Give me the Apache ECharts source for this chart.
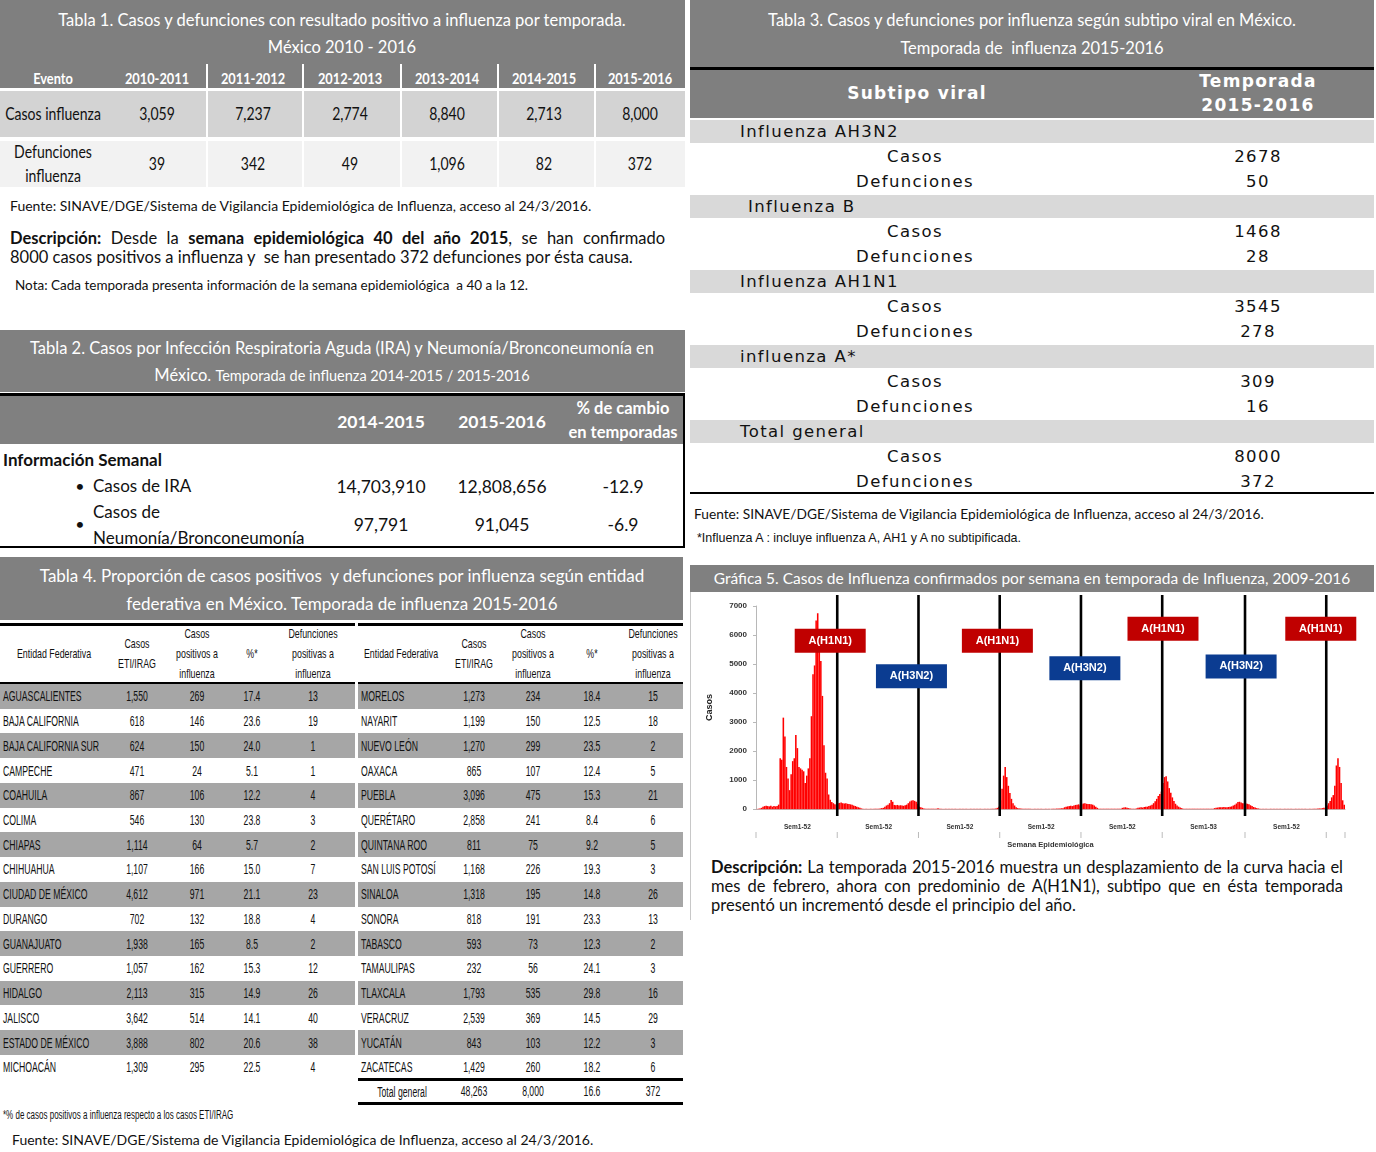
<!DOCTYPE html>
<html>
<head>
<meta charset="utf-8">
<script src="https://cdn.jsdelivr.net/npm/echarts/dist/echarts.min.js"></script>
<style>
  html, body { margin: 0; padding: 0; background: #fff; }
  #page { position: relative; width: 1376px; height: 1152px; overflow: hidden; background: #fff; }
  .t { position: absolute; white-space: nowrap; line-height: 1.2; }
  .r { position: absolute; }
  .cal { font-family: Lato, "Open Sans", sans-serif; }
  .arl { font-family: "Liberation Sans", Arial, sans-serif; }
  .dj { font-family: "DejaVu Sans", sans-serif; }
  .w { color: #fff; }
  .para { position: absolute; font-family: Lato, sans-serif; text-align: justify; color: #111; }
  .jl { display: block; white-space: nowrap; text-align: justify; text-align-last: justify; }
  .ll { display: block; white-space: nowrap; }
</style>
</head>
<body>
<div id="page"></div>
<script>
// ---- Gráfica 5: casos semanales de influenza, 2009-2016 ----
const weeks2009 = [0, 10, 20, 40, 80, 100, 110, 100, 90, 110, 80, 100, 90, 100, 150,
  1750, 1700, 3150, 2500, 1450, 1050, 650, 1200, 1650, 1750, 2550, 2100, 1450, 1400, 1350,
  1300, 900, 1150, 1400, 1750, 3200, 4650, 4950, 6500, 6750, 5700, 5100, 3900, 2200, 1250,
  1050, 500, 320, 240, 200, 160, 140]
const weeks2010 = [200, 210, 220, 200, 190, 200, 180, 170, 160, 150, 120, 100, 80, 60, 40, 20,
  10, 5, 5, 5, 5, 5, 5, 5, 10, 10, 10, 20, 30,
  40, 80, 120, 150, 200, 310, 250, 140, 130, 140, 120, 130, 120, 110, 130, 150, 200, 260, 290, 300, 280, 250, 180]
const weeks2011 = [80, 60, 40, 20,
  10, 10, 10, 10, 10, 10, 10, 10, 30, 10, 10,
  5, 5, 5, 5, 5, 5, 5, 5, 5, 5, 5, 5, 5, 5, 5, 5, 5, 5, 5, 5, 5, 5, 5, 5, 5, 5, 5, 5, 5, 5, 5, 5,
  10, 10, 20, 40, 80]
const weeks2012 = [300, 700, 1150, 1450, 1100, 800, 550, 350, 200, 120, 60, 30,
  20, 15, 10, 10, 10, 10, 10, 5, 5, 5, 5, 5, 5, 5, 5, 5, 5, 5, 5, 5, 5, 10, 10, 10, 15, 15, 20, 25,
  30, 60, 80, 90, 100, 110, 100, 120, 140, 150, 160, 120]
const weeks2013 = [160, 190, 200, 180, 170, 170, 160, 150, 120, 80, 40,
  10, 10, 10, 10, 10, 10, 10, 10, 10, 10, 10, 10, 10, 10, 10,
  40, 50, 60, 40, 30, 20, 10, 10, 10, 20,
  40, 50, 60, 50, 70, 80, 80, 100, 120, 150, 200, 270, 350, 450, 520, 600]
const weeks2014 = [900, 1100, 1130, 950, 720, 560, 400, 280, 180, 120, 80, 50, 30,
  10, 10, 10, 10, 10, 10, 10, 10, 10, 10, 10, 10, 10, 10, 10, 10, 10, 10, 10, 10,
  30, 40, 50, 60, 60, 60, 70, 60, 60, 70, 80, 90, 120, 150, 190, 240, 250, 220, 200, 190]
const weeks2015 = [190, 180, 160, 130, 100, 70, 50, 30, 20,
  5, 5, 5, 5, 5, 5, 5, 5, 5, 5, 5, 5, 5, 5, 5, 5, 5, 5, 5, 5, 5, 5, 5, 5, 5, 5, 5, 5, 5, 5, 5, 5, 5, 5, 5,
  10, 10, 15, 20, 20, 30, 40, 40]
const weeks2016 = [120, 200, 280, 400, 480, 800, 1500, 1750, 1450, 900, 300, 150]

const years = ['2009', '2010', '2011', '2012', '2013', '2014', '2015', '2016']
const yearLabels = ['Sem1-52', 'Sem1-52', 'Sem1-52', 'Sem1-52', 'Sem1-52', 'Sem1-53', 'Sem1-52', '']
const yTicks = [0, 1000, 2000, 3000, 4000, 5000, 6000, 7000]
const subtypeLabels = ['A(H1N1)', 'A(H3N2)', 'A(H1N1)', 'A(H3N2)', 'A(H1N1)', 'A(H3N2)', 'A(H1N1)']

// ---- tablas ----
const t1Seasons = ['2010-2011', '2011-2012', '2012-2013', '2013-2014', '2014-2015', '2015-2016']
const t1Casos = ['3,059', '7,237', '2,774', '8,840', '2,713', '8,000']
const t1Defunciones = ['39', '342', '49', '1,096', '82', '372']

const t2Seasons = ['2014-2015', '2015-2016']
const t2Ira = ['14,703,910', '12,808,656', '-12.9']
const t2Neumonia = ['97,791', '91,045', '-6.9']

const t3Subtipos = ['Influenza AH3N2', 'Influenza B', 'Influenza AH1N1', 'influenza A*', 'Total general']
const t3Casos = ['2678', '1468', '3545', '309', '8000']
const t3Defunciones = ['50', '28', '278', '16', '372']

const t4Left = [
  ['AGUASCALIENTES', '1,550', '269', '17.4', '13'],
  ['BAJA CALIFORNIA', '618', '146', '23.6', '19'],
  ['BAJA CALIFORNIA SUR', '624', '150', '24.0', '1'],
  ['CAMPECHE', '471', '24', '5.1', '1'],
  ['COAHUILA', '867', '106', '12.2', '4'],
  ['COLIMA', '546', '130', '23.8', '3'],
  ['CHIAPAS', '1,114', '64', '5.7', '2'],
  ['CHIHUAHUA', '1,107', '166', '15.0', '7'],
  ['CIUDAD DE MÉXICO', '4,612', '971', '21.1', '23'],
  ['DURANGO', '702', '132', '18.8', '4'],
  ['GUANAJUATO', '1,938', '165', '8.5', '2'],
  ['GUERRERO', '1,057', '162', '15.3', '12'],
  ['HIDALGO', '2,113', '315', '14.9', '26'],
  ['JALISCO', '3,642', '514', '14.1', '40'],
  ['ESTADO DE MÉXICO', '3,888', '802', '20.6', '38'],
  ['MICHOACÁN', '1,309', '295', '22.5', '4']
]
const t4Right = [
  ['MORELOS', '1,273', '234', '18.4', '15'],
  ['NAYARIT', '1,199', '150', '12.5', '18'],
  ['NUEVO LEÓN', '1,270', '299', '23.5', '2'],
  ['OAXACA', '865', '107', '12.4', '5'],
  ['PUEBLA', '3,096', '475', '15.3', '21'],
  ['QUERÉTARO', '2,858', '241', '8.4', '6'],
  ['QUINTANA ROO', '811', '75', '9.2', '5'],
  ['SAN LUIS POTOSÍ', '1,168', '226', '19.3', '3'],
  ['SINALOA', '1,318', '195', '14.8', '26'],
  ['SONORA', '818', '191', '23.3', '13'],
  ['TABASCO', '593', '73', '12.3', '2'],
  ['TAMAULIPAS', '232', '56', '24.1', '3'],
  ['TLAXCALA', '1,793', '535', '29.8', '16'],
  ['VERACRUZ', '2,539', '369', '14.5', '29'],
  ['YUCATÁN', '843', '103', '12.2', '3'],
  ['ZACATECAS', '1,429', '260', '18.2', '6']
]
const t4Total = ['Total general', '48,263', '8,000', '16.6', '372']

const fuente = 'Fuente: SINAVE/DGE/Sistema de Vigilancia Epidemiológica de Influenza, acceso al 24/3/2016.'

// ---- helpers ----
const page = document.getElementById('page')

function rect(x, y, w, h, color) {
  const d = document.createElement('div')
  d.className = 'r'
  d.style.cssText += `left:${x}px;top:${y}px;width:${w}px;height:${h}px;background:${color}`
  page.appendChild(d)
  return d
}

// x,y = anchor (y is the text middle); align: 'l' | 'c' | 'r'; sx = horizontal squeeze
function put(x, y, html, cls, css, align, sx) {
  const d = document.createElement('div')
  d.className = 't ' + (cls || '')
  d.innerHTML = html
  const tx = align === 'l' ? '0' : align === 'r' ? '-100%' : '-50%'
  const ox = align === 'l' ? '0' : align === 'r' ? '100%' : '50%'
  d.style.cssText += `left:${x}px;top:${y}px;${css || ''};transform-origin:${ox} 50%;` +
    `transform:translate(${tx},-50%) scaleX(${sx || 1})`
  page.appendChild(d)
  return d
}

// párrafo justificado con cortes de línea fijos
function para(x, y, w, lines, css) {
  const d = document.createElement('div')
  d.className = 'para'
  d.style.cssText += `left:${x}px;top:${y}px;width:${w}px;${css}`
  d.innerHTML = lines.map((l, i) =>
    `<span class="${i < lines.length - 1 ? 'jl' : 'll'}">${l}</span>`).join('')
  page.appendChild(d)
}

// ---- Tabla 1 ----
rect(0, 0, 685, 88, '#7f7f7f')
put(342, 21, 'Tabla 1. Casos y defunciones con resultado positivo a influenza por temporada.', 'cal w', 'font-size:16.5px')
put(342, 48, 'México 2010 - 2016', 'cal w', 'font-size:16.5px')
const t1X = [157, 253, 350, 447, 544, 640]
const t1Sep = [206, 302, 400, 497, 594]
put(53, 78, 'Evento', 'cal w', 'font-size:16px;font-weight:bold', 'c', 0.8)
t1Seasons.forEach((s, i) => put(t1X[i], 78, s, 'cal w', 'font-size:16px;font-weight:bold', 'c', 0.8))
t1Sep.forEach(x => rect(x, 64, 2, 24, '#fff'))
rect(0, 91, 685, 46, '#d3d3d3')
rect(0, 141, 685, 46, '#f2f2f2')
t1Sep.forEach(x => { rect(x, 91, 2, 46, '#fff'); rect(x, 141, 2, 46, '#fff') })
put(53, 115, 'Casos influenza', 'cal', 'font-size:16.5px;color:#111', 'c', 0.85)
put(53, 153, 'Defunciones', 'cal', 'font-size:16.5px;color:#111', 'c', 0.85)
put(53, 177, 'influenza', 'cal', 'font-size:16.5px;color:#111', 'c', 0.85)
t1Casos.forEach((v, i) => put(t1X[i], 115, v, 'cal', 'font-size:16.5px;color:#111', 'c', 0.85))
t1Defunciones.forEach((v, i) => put(t1X[i], 165, v, 'cal', 'font-size:16.5px;color:#111', 'c', 0.85))
put(10, 206, fuente, 'cal', 'font-size:14px;color:#111', 'l')
para(10, 229, 655, [
  '<b>Descripción:</b> Desde la <b>semana epidemiológica 40 del año 2015</b>, se han confirmado',
  '8000 casos positivos a influenza y&nbsp; se han presentado 372 defunciones por ésta causa.'
], 'font-size:16.5px;line-height:19px')
put(15, 285, 'Nota: Cada temporada presenta información de la semana epidemiológica&nbsp; a 40 a la 12.', 'cal', 'font-size:13.5px;color:#111', 'l')

// ---- Tabla 2 ----
rect(0, 330, 685, 62, '#808080')
put(342, 349, 'Tabla 2. Casos por Infección Respiratoria Aguda (IRA) y Neumonía/Bronconeumonía en', 'cal w', 'font-size:16.5px')
put(342, 376, 'México. <span style="font-size:14.5px">Temporada de influenza 2014-2015 / 2015-2016</span>', 'cal w', 'font-size:16.5px')
rect(0, 393, 685, 3, '#000')
rect(0, 396, 683, 48, '#808080')
rect(683, 393, 2, 155, '#000')
rect(0, 546, 685, 2, '#000')
const t2X = [381, 502, 623]
t2Seasons.forEach((s, i) => put(t2X[i], 421, s, 'cal w', 'font-size:17.5px;font-weight:bold'))
put(623, 409, '% de cambio', 'cal w', 'font-size:16.5px;font-weight:bold')
put(623, 433, 'en temporadas', 'cal w', 'font-size:16.5px;font-weight:bold')
put(3, 460, 'Información Semanal', 'cal', 'font-size:17px;font-weight:bold;color:#111', 'l')
put(80, 486, '•', 'cal', 'font-size:16px;color:#111')
put(93, 486, 'Casos de IRA', 'cal', 'font-size:17px;color:#111', 'l')
put(80, 524, '•', 'cal', 'font-size:16px;color:#111')
put(93, 512, 'Casos de', 'cal', 'font-size:17px;color:#111', 'l')
put(93, 538, 'Neumonía/Bronconeumonía', 'cal', 'font-size:17px;color:#111', 'l')
t2Ira.forEach((v, i) => put(t2X[i], 486, v, 'cal', 'font-size:17.5px;color:#111'))
t2Neumonia.forEach((v, i) => put(t2X[i], 524, v, 'cal', 'font-size:17.5px;color:#111'))

// ---- Tabla 3 ----
rect(690, 0, 684, 67, '#808080')
put(1032, 21, 'Tabla 3. Casos y defunciones por influenza según subtipo viral en México.', 'cal w', 'font-size:16.5px')
put(1032, 49, 'Temporada de&nbsp; influenza 2015-2016', 'cal w', 'font-size:16.5px')
rect(690, 67, 684, 3, '#000')
rect(690, 70, 684, 48, '#7f7f7f')
put(917, 93, 'Subtipo viral', 'dj w', 'font-size:17px;font-weight:bold;letter-spacing:1.3px')
put(1258, 81, 'Temporada', 'dj w', 'font-size:17px;font-weight:bold;letter-spacing:1.3px')
put(1258, 105, '2015-2016', 'dj w', 'font-size:17px;font-weight:bold;letter-spacing:1.3px')
const t3NameX = [740, 748, 740, 740, 740]
t3Subtipos.forEach((s, g) => {
  const top = 120 + g * 75
  rect(690, top, 684, 23, '#d9d9d9')
  const st = 'font-size:16.5px;color:#111;letter-spacing:1.4px'
  put(t3NameX[g], top + 12, s, 'dj', st, 'l')
  put(915, top + 37, 'Casos', 'dj', st)
  put(1258, top + 37, t3Casos[g], 'dj', st)
  put(915, top + 62, 'Defunciones', 'dj', st)
  put(1258, top + 62, t3Defunciones[g], 'dj', st)
})
rect(690, 492, 684, 2, '#000')
put(694, 514, fuente, 'cal', 'font-size:14px;color:#111', 'l', 0.98)
put(697, 538, '*Influenza A : incluye influenza A, AH1 y A no subtipificada.', 'arl', 'font-size:13px;color:#111', 'l', 0.96)

// ---- Tabla 4 ----
rect(0, 557, 683, 63, '#808080')
put(342, 576, 'Tabla 4. Proporción de casos positivos&nbsp; y defunciones por influenza según entidad', 'cal w', 'font-size:17px')
put(342, 604, 'federativa en México. Temporada de influenza 2015-2016', 'cal w', 'font-size:17px')
const t4Cols = [[3, 137, 197, 252, 313], [361, 474, 533, 592, 653]]
const t4Tables = [[0, 355, t4Left], [358, 325, t4Right]]
const rowH = 24.73
const nStyle = 'font-size:14px;color:#111'
t4Tables.forEach(([x0, w, rows], k) => {
  const cx = t4Cols[k]
  rect(x0, 623, w, 3, '#000')
  rect(x0, 682, w, 2, '#000')
  rows.forEach((r, i) => {
    const top = 684 + i * rowH
    if (i % 2 === 0) rect(x0, top, w, rowH, '#a6a6a6')
    const y = top + rowH / 2
    put(cx[0], y, r[0], 'arl', nStyle, 'l', 0.62)
    for (let c = 1; c < 5; c++) put(cx[c], y, r[c], 'arl', nStyle, 'c', 0.62)
  })
  const hs = 'font-size:13px;color:#111'
  put(k ? 401 : 54, 654, 'Entidad Federativa', 'arl', hs, 'c', 0.68)
  put(cx[1], 644, 'Casos', 'arl', hs, 'c', 0.68)
  put(cx[1], 664, 'ETI/IRAG', 'arl', hs, 'c', 0.68)
  put(cx[2], 634, 'Casos', 'arl', hs, 'c', 0.68)
  put(cx[2], 654, 'positivos a', 'arl', hs, 'c', 0.68)
  put(cx[2], 674, 'influenza', 'arl', hs, 'c', 0.68)
  put(cx[3], 654, '%*', 'arl', hs, 'c', 0.68)
  put(cx[4], 634, 'Defunciones', 'arl', hs, 'c', 0.68)
  put(cx[4], 654, 'positivas a', 'arl', hs, 'c', 0.68)
  put(cx[4], 674, 'influenza', 'arl', hs, 'c', 0.68)
})
rect(358, 1078, 325, 3, '#000')
rect(358, 1102, 325, 3, '#000')
put(402, 1092, t4Total[0], 'arl', nStyle, 'c', 0.62)
for (let c = 1; c < 5; c++) put(t4Cols[1][c], 1091, t4Total[c], 'arl', nStyle, 'c', 0.62)
put(3, 1115, '*% de casos positivos a influenza respecto a los casos ETI/IRAG', 'arl', 'font-size:12.5px;color:#111', 'l', 0.64)
put(12, 1140, fuente, 'cal', 'font-size:14px;color:#111', 'l')

// ---- Gráfica 5 panel ----
rect(690, 565, 684, 27, '#808080')
put(1032, 578, 'Gráfica 5. Casos de Influenza confirmados por semana en temporada de Influenza, 2009-2016', 'cal w', 'font-size:15.5px')
rect(690, 592, 1, 328, '#c8c8c8')
para(711, 858, 632, [
  '<b>Descripción:</b> La temporada 2015-2016 muestra un desplazamiento de la curva hacia el',
  'mes de febrero, ahora con predominio de A(H1N1), subtipo que en ésta temporada',
  'presentó un incrementó desde el principio del año.'
], 'font-size:16.5px;line-height:19px')

const chartDiv = document.createElement('div')
chartDiv.style.cssText = 'position:absolute;left:690px;top:592px;width:684px;height:262px'
page.appendChild(chartDiv)

// categorías semanales
const yearWeeks = [weeks2009, weeks2010, weeks2011, weeks2012, weeks2013, weeks2014, weeks2015, weeks2016]
const categories = []
const values = []
const yearStarts = []
const labelAt = {}
yearWeeks.forEach((arr, k) => {
  yearStarts.push(categories.length)
  if (yearLabels[k]) labelAt[categories.length + Math.floor(arr.length / 2)] = yearLabels[k]
  arr.forEach((v, w) => {
    categories.push(years[k] + '-' + (w + 1))
    values.push(v)
  })
})
const total = categories.length

// anclas de las etiquetas de subtipo [índice de semana, casos]
const labelAnchors = [[47, 5800], [99, 4575], [154, 5800], [210, 4850], [260, 6215], [310, 4915], [361, 6215]]
const labelColors = { 'A(H1N1)': '#c00000', 'A(H3N2)': '#0b3c91' }

const chart = echarts.init(chartDiv, null, { renderer: 'canvas' })
chart.setOption({
  animation: false,
  grid: { left: 66, right: 29, top: 14, bottom: 43 },
  xAxis: {
    type: 'category',
    data: categories,
    name: 'Semana Epidemiológica',
    nameLocation: 'middle',
    nameGap: 32,
    nameTextStyle: { fontSize: 7.5, fontWeight: 'bold', color: '#333', fontFamily: 'Arial' },
    axisLine: { lineStyle: { color: '#c9a3a3', width: 1 } },
    axisTick: { interval: 0, length: 6, lineStyle: { color: '#8c8c8c', width: 1 } },
    axisLabel: {
      interval: idx => labelAt[idx] !== undefined,
      formatter: (v, idx) => labelAt[idx] || '',
      fontSize: 6.5,
      fontWeight: 'bold',
      color: '#333',
      fontFamily: 'Arial',
      margin: 15
    },
    splitLine: { show: false }
  },
  yAxis: {
    type: 'value',
    min: yTicks[0],
    max: yTicks[yTicks.length - 1],
    interval: 1000,
    name: 'Casos',
    nameLocation: 'middle',
    nameGap: 42,
    nameRotate: 90,
    nameTextStyle: { fontSize: 9, fontWeight: 'bold', color: '#222', fontFamily: 'Liberation Sans Narrow, Arial' },
    axisLine: { show: true, lineStyle: { color: '#b8b8b8' } },
    axisTick: { show: true, length: 3, lineStyle: { color: '#b8b8b8' } },
    axisLabel: {
      formatter: v => String(v),
      fontSize: 8, fontWeight: 'bold', color: '#333', fontFamily: 'Arial', margin: 9
    },
    splitLine: { show: false }
  },
  series: [
    {
      name: 'Casos',
      type: 'bar',
      data: values,
      barWidth: '100%',
      barCategoryGap: 0,
      itemStyle: { color: '#ff0000' },
      z: 2
    },
    {
      name: 'Temporadas',
      type: 'custom',
      clip: false,
      z: 3,
      data: yearStarts.concat([total]).map(i => [i, 0]),
      renderItem: (params, api) => {
        const idx = api.value(0)
        const bw = api.size([1, 0])[0]
        const ref = Math.min(idx, total - 1)
        const base = api.coord([ref, 0])
        const topP = api.coord([ref, 7000])
        const x = base[0] - bw / 2 + (idx - ref) * bw
        const children = [{
          type: 'line',
          shape: { x1: x, y1: base[1] + 23, x2: x, y2: base[1] + 29 },
          style: { stroke: '#bbb', lineWidth: 1 }
        }]
        if (idx > 0 && idx < total) {
          children.push({
            type: 'line',
            shape: { x1: x, y1: topP[1] - 11, x2: x, y2: base[1] + 7 },
            style: { stroke: '#000', lineWidth: 2.6 }
          })
        }
        return { type: 'group', children }
      }
    },
    {
      name: 'Subtipo',
      type: 'scatter',
      z: 4,
      symbol: 'rect',
      symbolSize: [71, 24],
      data: subtypeLabels.map((s, i) => ({
        name: s,
        value: labelAnchors[i],
        itemStyle: { color: labelColors[s], opacity: 1 }
      })),
      emphasis: { disabled: true },
      label: {
        show: true,
        position: 'inside',
        formatter: p => p.name,
        color: '#fff',
        fontSize: 11,
        fontWeight: 'bold',
        fontFamily: 'Arial'
      }
    }
  ]
})
</script>
</body>
</html>
